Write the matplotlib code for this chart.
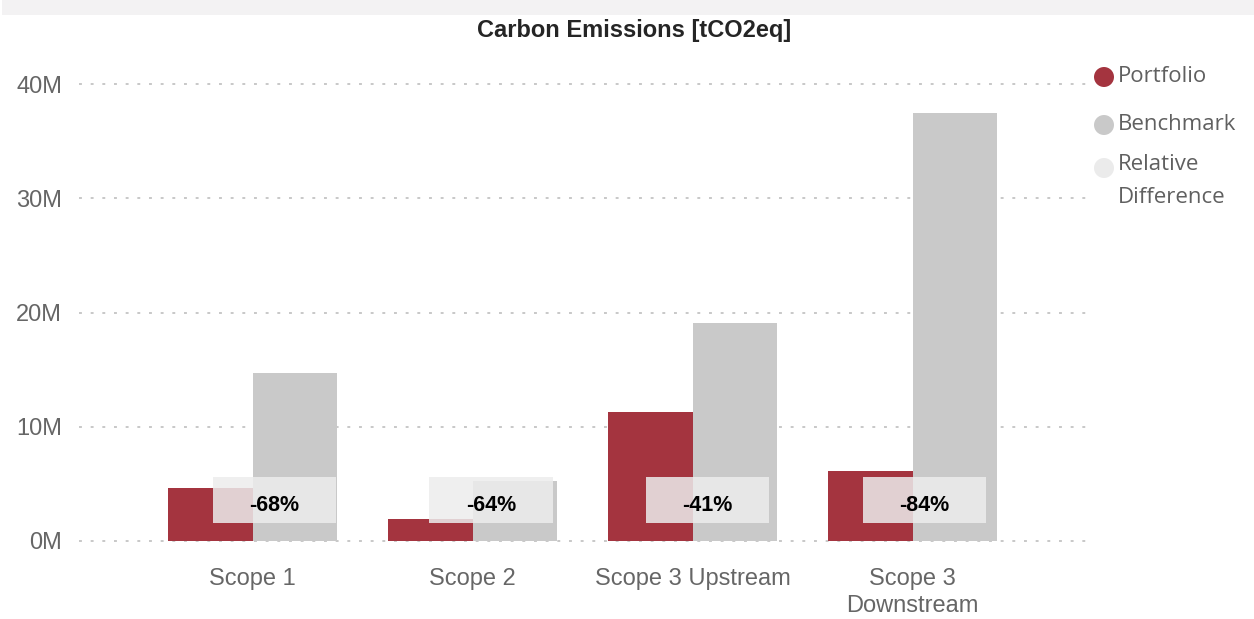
import matplotlib
matplotlib.use("Agg")
import matplotlib.pyplot as plt
from matplotlib.patches import Rectangle, Ellipse
from matplotlib.ticker import FuncFormatter

# Emissions per scope, tCO2eq
categories = ["Scope 1", "Scope 2", "Scope 3 Upstream", "Scope 3\nDownstream"]
portfolio = [4.64e6, 1.90e6, 11.26e6, 6.15e6]
benchmark = [14.70e6, 5.28e6, 19.10e6, 37.45e6]
relative_difference = ["-68%", "-64%", "-41%", "-84%"]
y_ticks = [0, 10e6, 20e6, 30e6, 40e6]

PORTFOLIO_COLOR = "#A4343F"
BENCHMARK_COLOR = "#C9C9C9"
REL_COLOR = "#EBEBEB"
TEXT_GREY = "#666666"

W, H, DPI = 1254, 619, 100
fig = plt.figure(figsize=(W / DPI, H / DPI), dpi=DPI)
fig.patch.set_facecolor("white")

# header band
fig.add_artist(Rectangle((2 / W, 1 - 15 / H), 1, 15 / H, transform=fig.transFigure,
                         facecolor="#F3F2F3", edgecolor="none"))

ax = fig.add_axes([79 / W, (619 - 546.7) / H, (1093 - 79) / W, (546.7 - 72.6) / H])
ax.set_xlim(-0.79, 3.82)
ax.set_ylim(-0.5e6, 41e6)

x = list(range(len(categories)))
bw = 0.385
ax.bar([i - bw / 2 for i in x], portfolio, width=bw, color=PORTFOLIO_COLOR, zorder=2)
ax.bar([i + bw / 2 for i in x], benchmark, width=bw, color=BENCHMARK_COLOR, zorder=2)

# relative difference labels (own slightly narrower category spacing)
box_w, box_lo, box_hi = 0.56, 1.57e6, 5.6e6
for i, lab in zip(x, relative_difference):
    cx = 0.098 + i * 0.985
    ax.add_patch(Rectangle((cx - box_w / 2, box_lo), box_w, box_hi - box_lo,
                           facecolor="#EDEDED", alpha=0.85, edgecolor="none", zorder=3))
    ax.text(cx, (box_lo + box_hi) / 2 - 0.5e6, lab, ha="center", va="center",
            fontsize=15.5, fontweight="bold", color="black",
            family="Liberation Sans", zorder=4)

ax.set_yticks(y_ticks)
ax.yaxis.set_major_formatter(FuncFormatter(lambda v, p: f"{v / 1e6:.0f}M"))
ax.set_xticks(x)
ax.set_xticklabels(categories, linespacing=1.3)
ax.grid(axis="y", color="#C8C8C8", linewidth=1.4, linestyle=(0, (1.5, 4.5)), zorder=1)
ax.set_axisbelow(True)
ax.tick_params(axis="both", length=0, labelsize=17, labelcolor=TEXT_GREY)
ax.tick_params(axis="y", pad=12)
ax.tick_params(axis="x", pad=15)
for lbl in ax.get_xticklabels() + ax.get_yticklabels():
    lbl.set_family("Liberation Sans")
for s in ax.spines.values():
    s.set_visible(False)

fig.text(634 / W, 1 - 30 / H, "Carbon Emissions [tCO2eq]", ha="center", va="center",
         fontsize=17, fontweight="bold", color="#252525", family="Liberation Sans")

# legend
legend_items = [("Portfolio", PORTFOLIO_COLOR, 77, 77),
                ("Benchmark", BENCHMARK_COLOR, 125, 125),
                ("Relative\nDifference", REL_COLOR, 168, 181)]
for name, col, cy, ty in legend_items:
    fig.add_artist(Ellipse((1104 / W, 1 - cy / H), 20 / W, 20 / H,
                           transform=fig.transFigure, facecolor=col, edgecolor="none"))
    fig.text(1118 / W, 1 - ty / H, name, ha="left", va="center", fontsize=16,
             color="#606060", family="Open Sans", linespacing=1.75)

fig.savefig("out.png", dpi=DPI)
